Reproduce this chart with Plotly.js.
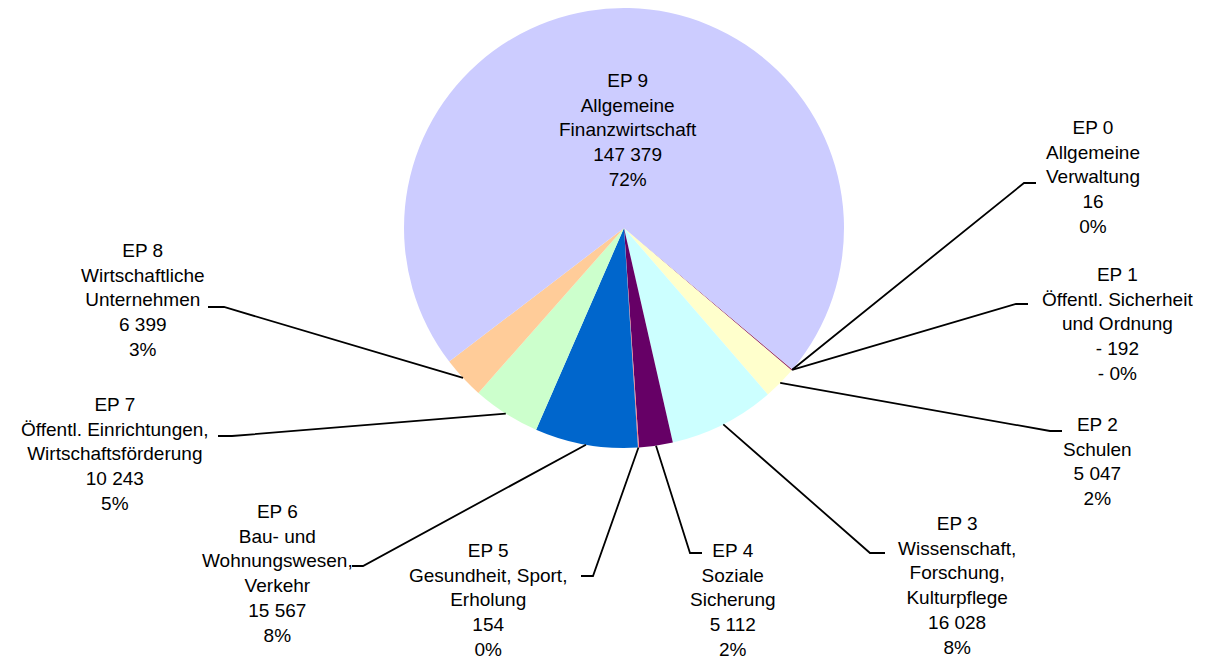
<!DOCTYPE html>
<html>
<head>
<meta charset="utf-8">
<script src="https://cdn.plot.ly/plotly-3.0.1.min.js"></script>
<style>
    body { margin: 0; background: #fff; }
    #chart { width: 1208px; height: 660px; }
</style>
</head>
<body>
<div id="chart"></div>
<script>
    // data
    var codes = ['EP 0', 'EP 1', 'EP 2', 'EP 3', 'EP 4', 'EP 5', 'EP 6', 'EP 7', 'EP 8', 'EP 9'];
    var names = [
        'Allgemeine<br>Verwaltung',
        'Öffentl. Sicherheit<br>und Ordnung',
        'Schulen',
        'Wissenschaft,<br>Forschung,<br>Kulturpflege',
        'Soziale<br>Sicherung',
        'Gesundheit, Sport,<br>Erholung',
        'Bau- und<br>Wohnungswesen,<br>Verkehr',
        'Öffentl. Einrichtungen,<br>Wirtschaftsförderung',
        'Wirtschaftliche<br>Unternehmen',
        'Allgemeine<br>Finanzwirtschaft'
    ];
    var values = [16, -192, 5047, 16028, 5112, 154, 15567, 10243, 6399, 147379];
    var colors = ['#9999FF', '#993366', '#FFFFCC', '#CCFFFF', '#660066', '#FF8080', '#0066CC', '#CCFFCC', '#FFCC99', '#CCCCFF'];

    var W = 1208, H = 660;
    var FONT = 'Liberation Sans, Arial, Helvetica, sans-serif';

    // pie placement (pixels)
    var pieCx = 624, pieCy = 228, pieR = 220;

    // label block centres (pixels)
    var labelX = [1093, 1117, 1097, 957, 733, 488, 277, 115, 143, 628];
    var labelY = [177, 324, 462, 585, 600, 600, 573, 454, 300, 130];

    // leader line elbow + stub end next to the text (pixels), EP 9 has none
    var elbows = [[1024, 183], [1016, 304], [1050, 431], [870, 553], [690, 553], [593, 576], [363, 566], [232, 436], [224, 307], null];
    var ends = [[1036, 183], [1028, 304], [1062, 431], [885, 553], [702, 553], [581, 576], [352, 566], [218, 436], [208, 307], null];

    function px(x) { return x / W; }
    function py(y) { return 1 - y / H; }

    function fmtNum(v) {
        var s = String(Math.abs(v)).replace(/\B(?=(\d{3})+(?!\d))/g, ' ');
        return (v < 0 ? '- ' : '') + s;
    }

    var total = values.reduce(function (a, b) { return a + b; }, 0);

    function fmtPct(v) {
        var p = Math.abs(Math.round(v / total * 100));
        return (v < 0 ? '- ' : '') + p + '%';
    }

    // excel draws negative values by their size
    var pieValues = values.map(function (v) { return Math.abs(v); });

    var trace = {
        type: 'pie',
        values: pieValues,
        labels: codes,
        sort: false,
        direction: 'clockwise',
        rotation: 130,
        textinfo: 'none',
        hoverinfo: 'skip',
        marker: { colors: colors, line: { width: 0 } },
        domain: {
            x: [px(pieCx - pieR), px(pieCx + pieR)],
            y: [py(pieCy + pieR), py(pieCy - pieR)]
        },
        showlegend: false
    };

    var annotations = [];
    for (var i = 0; i < codes.length; i++) {
        annotations.push({
            xref: 'paper', yref: 'paper',
            x: px(labelX[i]), y: py(labelY[i]),
            xanchor: 'center', yanchor: 'middle',
            align: 'center',
            showarrow: false,
            text: codes[i] + '<br>' + names[i] + '<br>' + fmtNum(values[i]) + '<br>' + fmtPct(values[i]),
            font: { family: FONT, size: 19, color: '#000' }
        });
    }

    var layout = {
        width: W,
        height: H,
        margin: { l: 0, r: 0, t: 0, b: 0 },
        paper_bgcolor: '#fff',
        showlegend: false,
        annotations: annotations
    };

    var gd = document.getElementById('chart');
    Plotly.newPlot(gd, [trace], layout, { staticPlot: true }).then(function () {
        // leader lines start at the slice middles that plotly computed
        var cd = gd.calcdata[0];
        var cx = cd[0].cx, cy = cd[0].cy;
        var shapes = [];
        for (var j = 0; j < cd.length; j++) {
            var k = cd[j].i;
            if (!elbows[k]) continue;
            var tx = cx + cd[j].pxmid[0];
            var ty = cy + cd[j].pxmid[1];
            shapes.push({
                type: 'path',
                xref: 'paper', yref: 'paper',
                path: 'M' + px(tx) + ',' + py(ty) +
                      ' L' + px(elbows[k][0]) + ',' + py(elbows[k][1]) +
                      ' L' + px(ends[k][0]) + ',' + py(ends[k][1]),
                line: { color: '#000', width: 1.8 }
            });
        }
        return Plotly.relayout(gd, { shapes: shapes });
    });
</script>
</body>
</html>
